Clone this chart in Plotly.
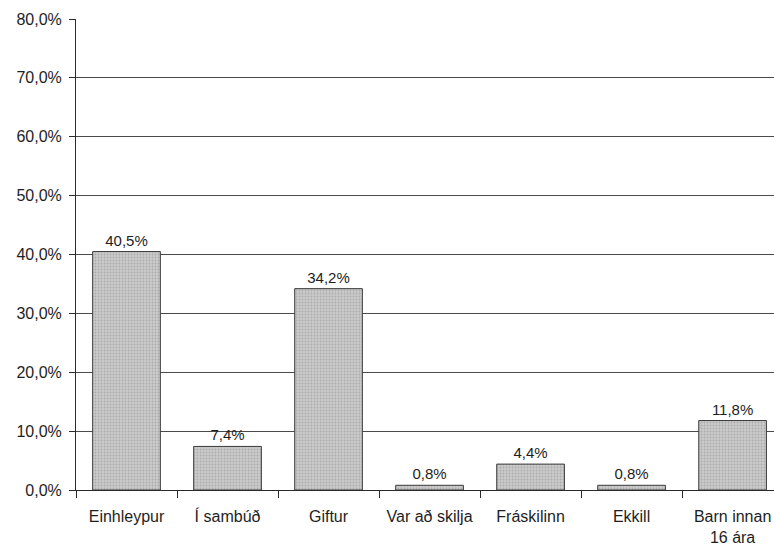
import plotly.graph_objects as go

categories = ["Einhleypur", "Í sambúð", "Giftur", "Var að skilja", "Fráskilinn", "Ekkill", "Barn innan<br>16 ára"]
values = [40.5, 7.4, 34.2, 0.8, 4.4, 0.8, 11.8]
y_ticks = [0, 10, 20, 30, 40, 50, 60, 70, 80]
y_tick_labels = ["0,0%", "10,0%", "20,0%", "30,0%", "40,0%", "50,0%", "60,0%", "70,0%", "80,0%"]

font_family = "Liberation Sans, Arial, sans-serif"
text_color = "#1e1e1e"

fig = go.Figure(go.Bar(
    x=categories,
    y=values,
    width=0.67,
    marker=dict(
        color="#bcbcbc",
        line=dict(color="#3a3a3a", width=1),
        pattern=dict(shape=".", fgcolor="#8c8c8c", bgcolor="#cacaca", size=3, solidity=0.3),
    ),
    texttemplate="%{y:.1f}%",
    textposition="outside",
    textfont=dict(family=font_family, size=15, color=text_color),
    cliponaxis=False,
))

fig.update_layout(
    width=774, height=546,
    margin=dict(l=76, r=0, t=19, b=56),
    paper_bgcolor="white", plot_bgcolor="white",
    separators=",.",
    showlegend=False,
    font=dict(family=font_family, size=16, color=text_color),
)
fig.update_xaxes(
    range=[-0.5, 6.41],
    automargin=False,
    showgrid=False,
    showline=True, linecolor="#2a2a2a", linewidth=1,
    ticks="outside", tickson="boundaries", ticklen=7, tickcolor="#2a2a2a",
    tickfont=dict(family=font_family, size=16, color=text_color),
    ticklabelstandoff=12,
)
fig.update_yaxes(
    range=[0, 80],
    automargin=False,
    tickvals=y_ticks,
    ticktext=y_tick_labels,
    showgrid=True, gridcolor="#4a4a4a", gridwidth=1,
    showline=True, linecolor="#2a2a2a", linewidth=1,
    ticks="outside", ticklen=6, tickcolor="#2a2a2a",
    tickfont=dict(family=font_family, size=16, color=text_color),
    ticklabelstandoff=4,
    zeroline=False,
)

# remove the page's default body margin so the figure fills the window exactly
fig.write_html(
    "out.html",
    config={"displayModeBar": False},
    post_script="document.body.style.margin='0';document.body.style.overflow='hidden';",
)
